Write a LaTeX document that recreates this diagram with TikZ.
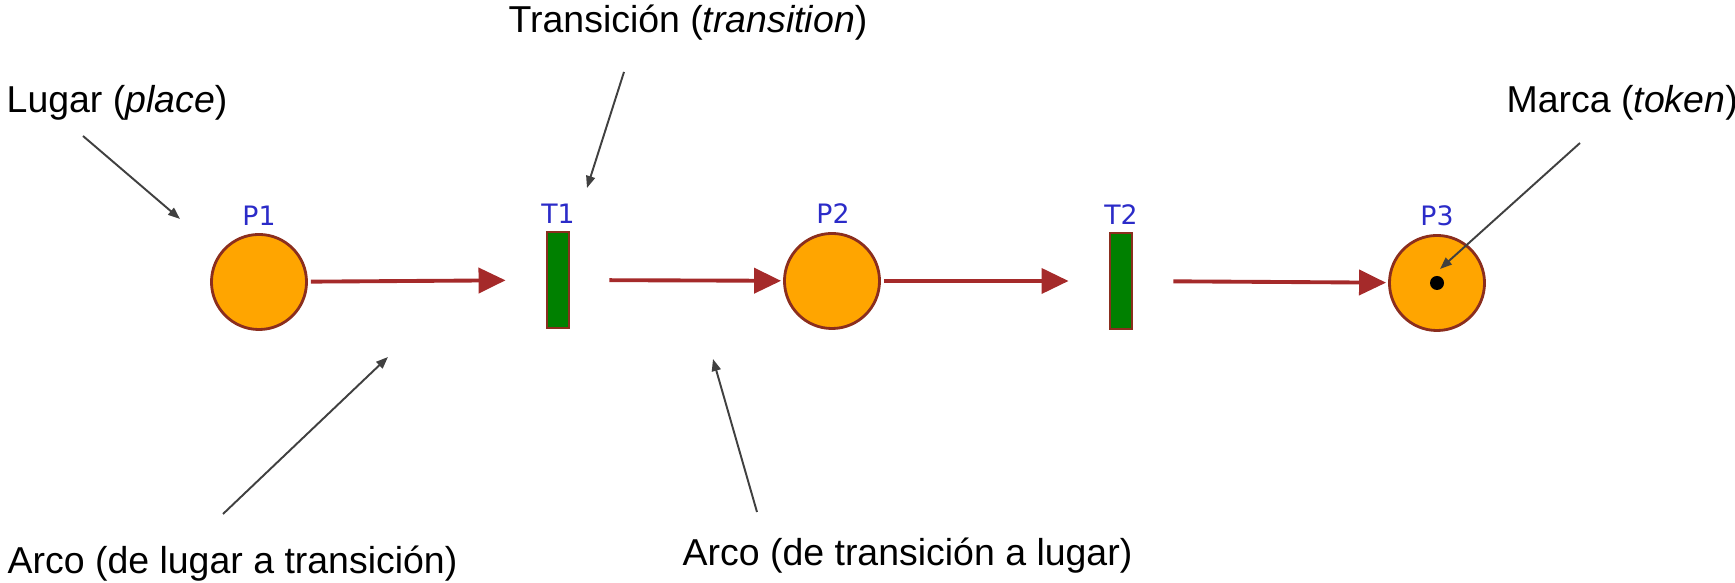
\documentclass[tikz,border=0pt]{standalone}
\usepackage{fontspec}
\setmainfont{Liberation Sans}
\newfontfamily\pnfont{DejaVu Sans}
\usetikzlibrary{arrows.meta}
\definecolor{placefill}{HTML}{FFA500}
\definecolor{placeline}{HTML}{8B2E1E}
\definecolor{transfill}{HTML}{008000}
\definecolor{arcred}{HTML}{A52A2A}
\definecolor{pnblue}{HTML}{2B2BC8}
\definecolor{notegray}{HTML}{404040}
\begin{document}
\begin{tikzpicture}[x=0.01cm,y=-0.01cm,
  place/.style={circle,draw=placeline,fill=placefill,line width=0.8pt,minimum size=0.95cm,inner sep=0pt},
  trans/.style={rectangle,draw=placeline,fill=transfill,line width=0.8pt,minimum width=0.22cm,minimum height=0.96cm,inner sep=0pt},
  token/.style={circle,fill=black,minimum size=0.14cm,inner sep=0pt},
  pname/.style={text=pnblue,font=\pnfont\fontsize{7.6}{8}\selectfont,inner sep=0pt},
  note/.style={font=\fontsize{10.65}{13}\selectfont,anchor=base west,inner sep=0pt},
  arc/.style={draw=arcred,line width=1.1pt,-{Triangle[length=0.27cm,width=0.25cm]}},
  pointer/.style={draw=notegray,line width=0.55pt,-{Triangle[length=0.12cm,width=0.09cm]}}]
\useasboundingbox (0,0) rectangle (1735,583);
\node[place] (p1) at (259,282) {};\node[pname] (p1n) at (259,216) {P1};
\node[trans] (t1) at (558,280) {};\node[pname] (t1n) at (558,214) {T1};
\node[place] (p2) at (832,281) {};\node[pname] (p2n) at (833,214) {P2};
\node[trans] (t2) at (1121,281) {};\node[pname] (t2n) at (1121,215) {T2};
\node[place] (p3) at (1437,283) {};\node[pname] (p3n) at (1437,216) {P3};
\node[token] (tk) at (1437,283) {};
\draw[arc,shorten <=0.03cm,shorten >=0.4cm] (p1) -- (t1);
\draw[arc,shorten <=0.39cm,shorten >=0.02cm] (t1) -- (p2);
\draw[arc,shorten <=0.03cm,shorten >=0.4cm] (p2) -- (t2);
\draw[arc,shorten <=0.4cm,shorten >=0.02cm] (t2) -- (p3);
\node[note] (lugar) at (6,113) {Lugar (\textit{place})};
\node[note] (trnote) at (508,33) {Transición (\textit{transition})};
\node[note] (marca) at (1506,113) {Marca (\textit{token})};
\node[note] (arcolt) at (7,574) {Arco (de lugar a transición)};
\node[note] (arcotl) at (682,566) {Arco (de transición a lugar)};
\coordinate (lugs) at (83,136);\coordinate (luge) at (180,219);
\coordinate (trs) at (624,72);\coordinate (tre) at (587,188);
\coordinate (mas) at (1580,143);\coordinate (mae) at (1440,269);
\coordinate (alts) at (223,514);\coordinate (alte) at (388,357);
\coordinate (atls) at (757,512);\coordinate (atle) at (713,359);
\draw[pointer] (lugs)--(luge);\draw[pointer] (trs)--(tre);\draw[pointer] (mas)--(mae);
\draw[pointer] (alts)--(alte);\draw[pointer] (atls)--(atle);
\end{tikzpicture}
\end{document}
